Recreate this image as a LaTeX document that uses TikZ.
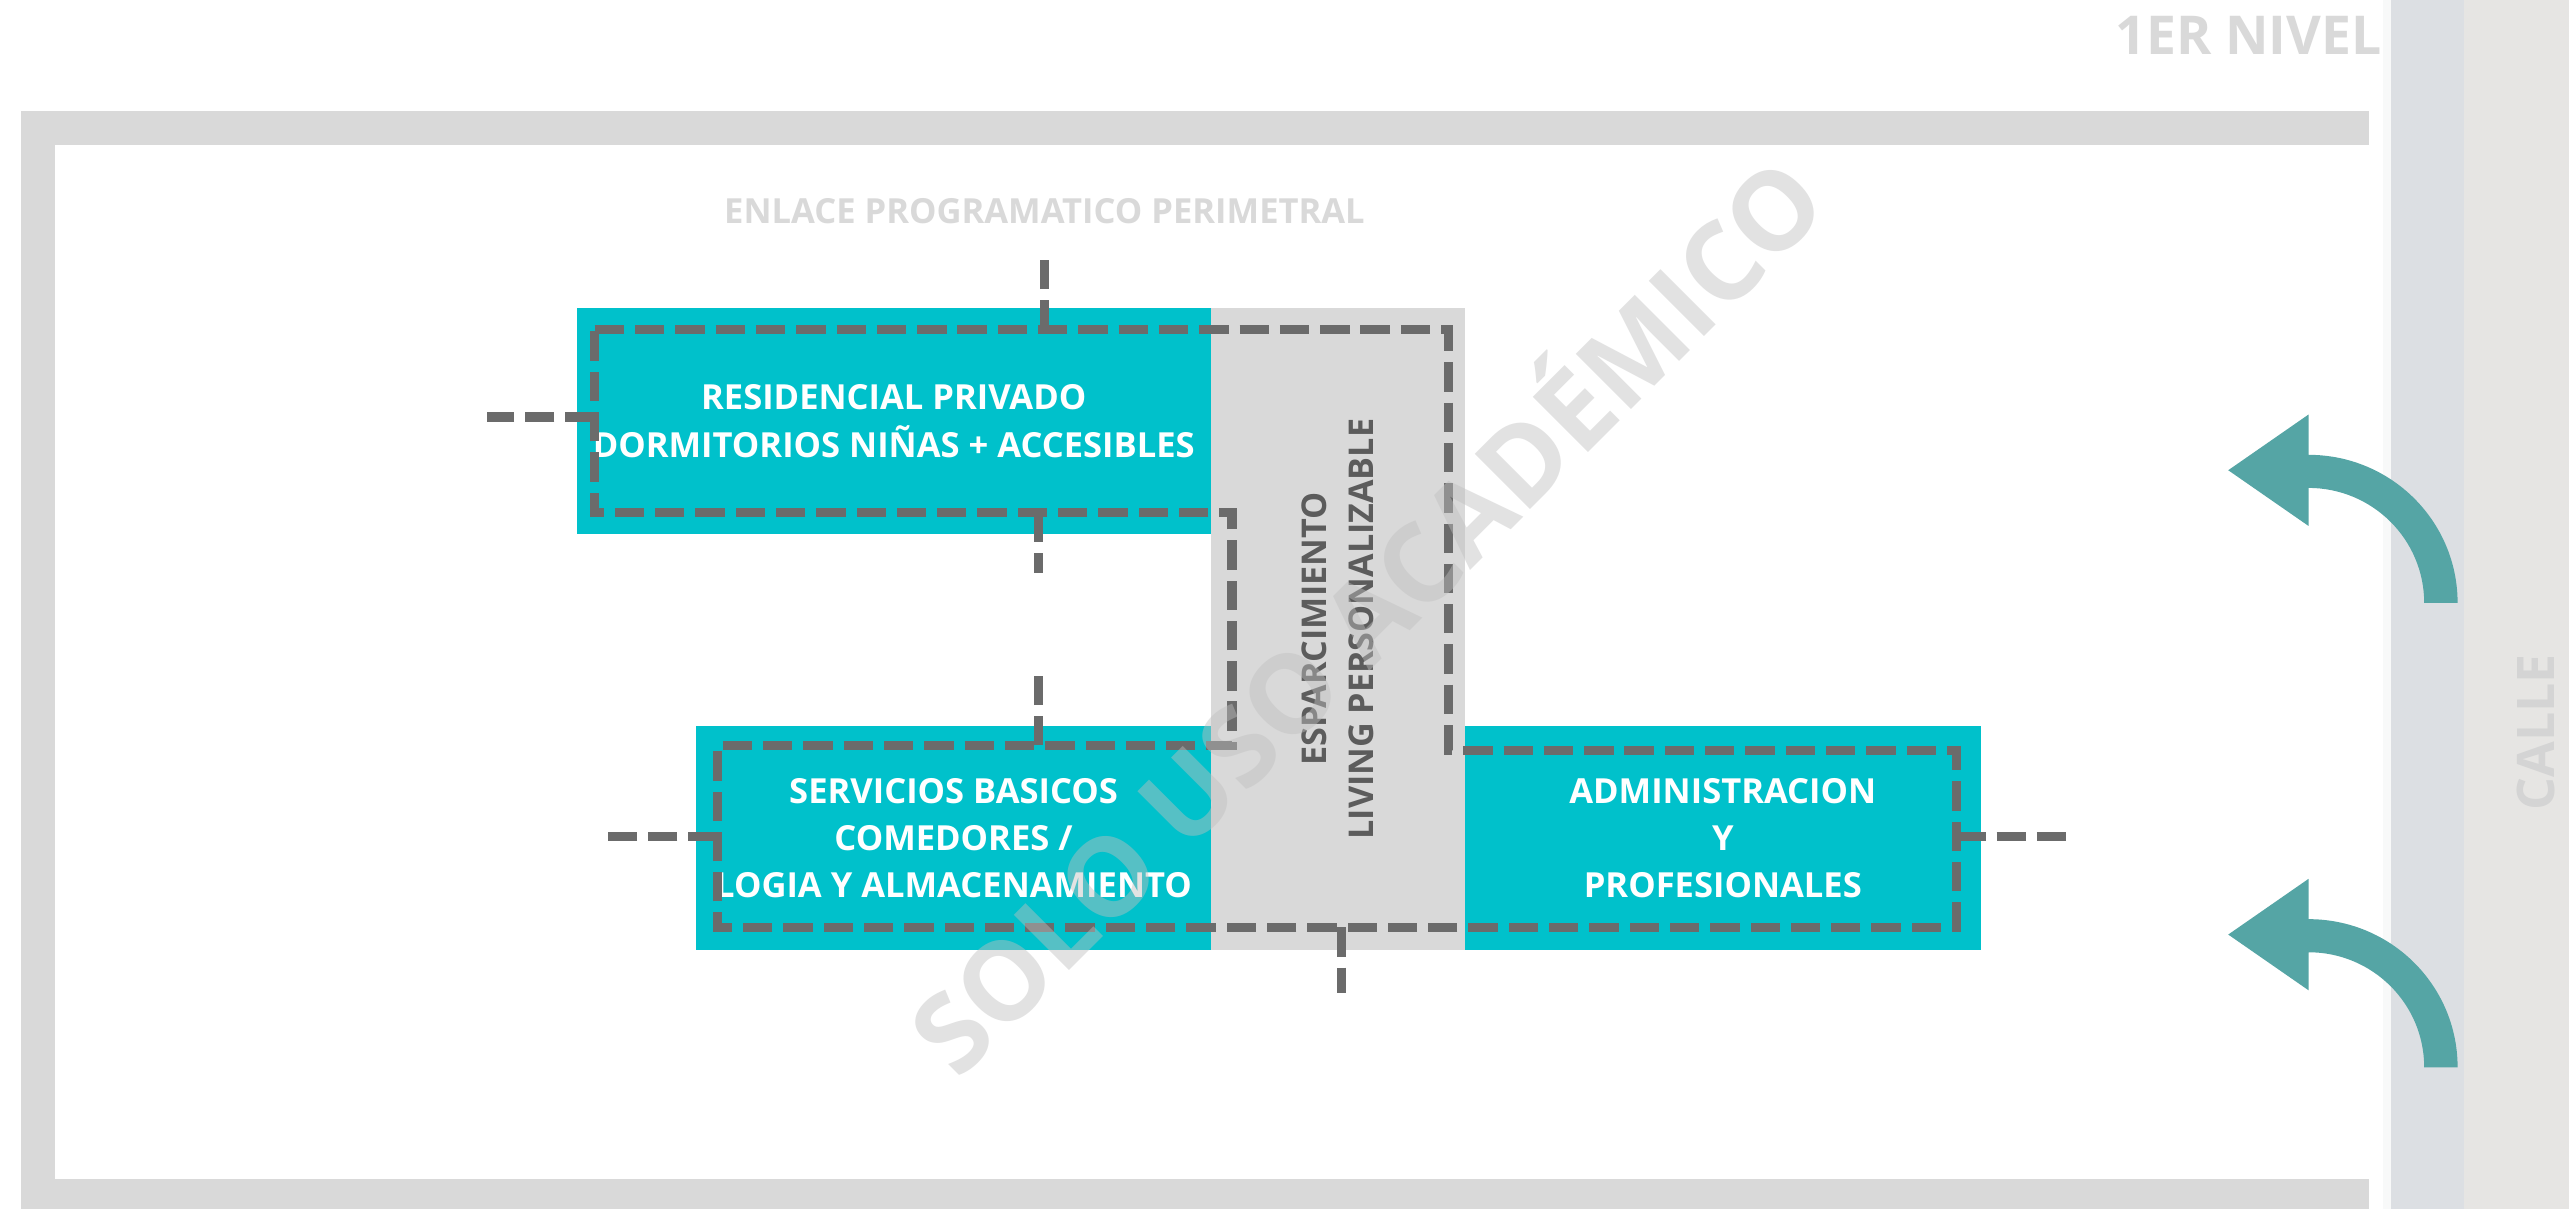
\documentclass[tikz,border=0pt]{standalone}
\usepackage{fontspec}
\setmainfont{Open Sans}
\definecolor{turquesa}{HTML}{00C1CB}
\definecolor{grismuro}{HTML}{D9D9D9}
\definecolor{grislinea}{HTML}{6B6B6B}
\definecolor{gristexto}{HTML}{5C5C5C}
\definecolor{flecha}{HTML}{55A5A5}
\definecolor{borde}{HTML}{F8F9F9}
\definecolor{vereda}{HTML}{DCDFE3}
\definecolor{calzada}{HTML}{E6E5E3}
\definecolor{rotulo}{HTML}{D4D4D4}
\tikzset{
    zona/.style={
        fill = turquesa,
        text = white,
        font = \bfseries\fontsize{12}{16.4}\selectfont,
        align = center,
        inner sep = 0pt,
        outer sep = 0pt
    },
    living/.style={
        fill = grismuro,
        text = gristexto,
        font = \bfseries\fontsize{11.85}{16.4}\selectfont,
        align = center,
        inner sep = 0pt,
        outer sep = 0pt
    },
    enlace/.style={
        draw = grislinea,
        line width = 3.2pt,
        dash pattern = on 10.2pt off 3.8pt
    }
}
\begin{document}
\begin{tikzpicture}[x=0.02cm, y=-0.02cm]
            \useasboundingbox (0,0) rectangle (1568,738);
            \fill[white] (0,0) rectangle (1568,738);
            \fill[borde] (1454.7,0) rectangle (1459.2,738);
            \fill[vereda] (1459.2,0) rectangle (1504,738);
            \fill[calzada] (1504,0) rectangle (1568,738);
            \fill[grismuro] (12.6,67.7) rectangle (1446,88.3);
            \fill[grismuro] (12.6,67.7) rectangle (33.6,738);
            \fill[grismuro] (12.6,719.6) rectangle (1446,738);

            \node[living, rotate=90, minimum width=7.84cm, minimum height=3.1cm] (liv) at (816.5,384) {ESPARCIMIENTO\\LIVING PERSONALIZABLE};
            \node[zona, minimum width=7.74cm, minimum height=2.76cm] (res) at (545.5,257) {RESIDENCIAL PRIVADO\\DORMITORIOS NIÑAS + ACCESIBLES};
            \node[zona, minimum width=6.28cm, minimum height=2.74cm] (serv) at (582,511.5) {SERVICIOS BASICOS\\COMEDORES /\\LOGIA Y ALMACENAMIENTO};
            \node[zona, minimum width=6.3cm, minimum height=2.74cm] (adm) at (1051.5,511.5) {ADMINISTRACION\\Y\\PROFESIONALES};

            \draw[enlace] (363,201) -- (884,201) -- (884,458) -- (1194,458) -- (1194,566) -- (438,566) -- (438,455) -- (752,455) -- (752,313) -- (363,313) -- cycle;

            \coordinate (a1) at (637.5,201);
            \coordinate (b1) at (637.5,158);
            \coordinate (a2) at (363,254.5);
            \coordinate (b2) at (297,254.5);
            \coordinate (a3) at (634,313);
            \coordinate (b3) at (634,350);
            \coordinate (a4) at (634,455);
            \coordinate (b4) at (634,412);
            \coordinate (a5) at (438,510.7);
            \coordinate (b5) at (369,510.7);
            \coordinate (a6) at (1194,510.7);
            \coordinate (b6) at (1263,510.7);
            \coordinate (a7) at (819,566);
            \coordinate (b7) at (819,606);
            \foreach \i in {1,...,7}
                \draw[enlace] (a\i) -- (b\i);

            \node[anchor=base, inner sep=0pt, text=grismuro, font=\bfseries\fontsize{12}{14}\selectfont] (titulo) at (637.5,136.7) {ENLACE PROGRAMATICO PERIMETRAL};
            \node[anchor=base east, inner sep=0pt, text=grismuro, font=\bfseries\fontsize{18.6}{20}\selectfont] (nivel) at (1454,33) {1ER NIVEL};
            \node[rotate=90, inner sep=0pt, text=rotulo, font=\bfseries\fontsize{18}{20}\selectfont] (calle) at (1548,447) {CALLE};

            \foreach \dy in {0,283.4}
                \fill[flecha, shift={(0,\dy)}]
                (1360,287) -- (1409,253) -- (1409,277.6)
                .. controls (1459.3,277.6) and (1500,318) .. (1500,368)
                -- (1479.6,368)
                .. controls (1479.6,329.2) and (1448,297.8) .. (1409,297.8)
                -- (1409,321) -- cycle;

            \node[rotate=45, text=black!25, text opacity=0.45, font=\bfseries\fontsize{38}{40}\selectfont] (marca) at (830,372) {SOLO USO ACADÉMICO};
        \end{tikzpicture}
\end{document}
